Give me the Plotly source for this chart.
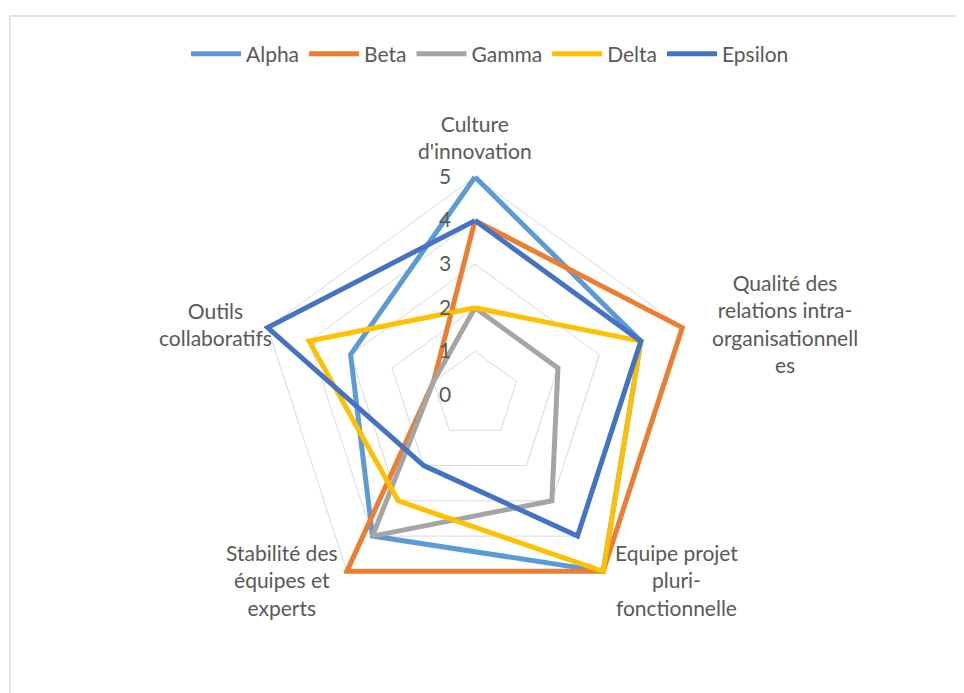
import plotly.graph_objects as go

# Radar chart data
categories = [
    "Culture<br>d'innovation",
    "Qualité des<br>relations intra-<br>organisationnell<br>es",
    "Equipe projet<br>pluri-<br>fonctionnelle",
    "Stabilité des<br>équipes et<br>experts",
    "Outils<br>collaboratifs",
]
alpha = [5, 4, 5, 4, 3]
beta = [4, 5, 5, 5, 1]
gamma = [2, 2, 3, 4, 1]
delta = [2, 4, 5, 3, 4]
epsilon = [4, 4, 4, 2, 5]
radial_ticks = [0, 1, 2, 3, 4, 5]

series = [
    ("Alpha", alpha, "#5B9BD5"),
    ("Beta", beta, "#ED7D31"),
    ("Gamma", gamma, "#A5A5A5"),
    ("Delta", delta, "#FFC000"),
    ("Epsilon", epsilon, "#4472C4"),
]

fig = go.Figure()
for name, vals, color in series:
    fig.add_trace(go.Scatterpolar(
        r=vals + vals[:1],
        theta=categories + categories[:1],
        mode="lines",
        name=name,
        cliponaxis=False,
        line=dict(color=color, width=5),
    ))

W, H = 964, 693
off = 8  # page body margin
rmax = 5.1  # a little headroom so lines on the outer ring are not clipped
cx, cy = 475 - off, 395 - off
rad = 218 * rmax / 5

# category label centres (pixels in the window)
label_pos = [(475, 137), (785, 324), (676, 580), (282, 580), (215, 324)]
annotations = [
    dict(text=txt, xref="paper", yref="paper",
         x=(px - off) / W, y=1 - (py - off) / H,
         xanchor="center", yanchor="middle", align="center", showarrow=False,
         font=dict(family="Lato", size=21, color="#595959"))
    for txt, (px, py) in zip(categories, label_pos)
]

fig.update_layout(
    width=W, height=H,
    margin=dict(l=0, r=0, t=0, b=0),
    paper_bgcolor="white",
    font=dict(family="Lato", size=21, color="#595959"),
    showlegend=True,
    legend=dict(orientation="h", x=0.5, xanchor="center", y=1 - (54 - off) / H, yanchor="middle",
                font=dict(size=21), itemwidth=50),
    polar=dict(
        domain=dict(x=[(cx - rad) / W, (cx + rad) / W],
                    y=[(H - cy - rad) / H, (H - cy + rad) / H]),
        gridshape="linear",
        bgcolor="white",
        radialaxis=dict(range=[0, rmax], tickvals=radial_ticks, angle=90, tickangle=90,
                        side="counterclockwise",
                        showline=False, ticks="outside", ticklen=16, tickcolor="rgba(0,0,0,0)",
                        gridcolor="#D9D9D9", gridwidth=1.3,
                        tickfont=dict(size=21, color="#595959")),
        angularaxis=dict(rotation=90, direction="clockwise", showgrid=False,
                         showline=False, ticks="", showticklabels=False),
    ),
    annotations=annotations,
    shapes=[dict(type="rect", xref="paper", yref="paper",
                 x0=(10 - off) / W, x1=1.05, y0=-0.05, y1=1 - (16 - off) / H,
                 line=dict(color="#D9D9D9", width=1.3))],
)

fig.write_html("out.html")
